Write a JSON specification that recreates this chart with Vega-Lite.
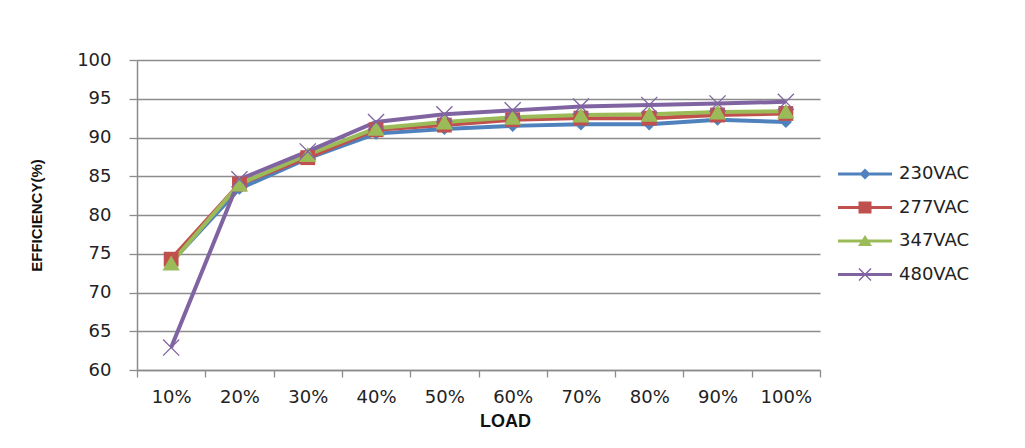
{
  "$schema": "https://vega.github.io/schema/vega-lite/v6.json",
  "width": 683,
  "height": 310,
  "autosize": {"type": "none"},
  "padding": {"left": 137, "top": 60, "right": 205, "bottom": 78},
  "background": "white",
  "config": {"view": {"stroke": null}, "font": "DejaVu Sans"},
  "data": {
    "values": [
      {"load": "10%", "series": "230VAC", "eff": 73.9},
      {"load": "20%", "series": "230VAC", "eff": 83.4},
      {"load": "30%", "series": "230VAC", "eff": 87.3},
      {"load": "40%", "series": "230VAC", "eff": 90.5},
      {"load": "50%", "series": "230VAC", "eff": 91.1},
      {"load": "60%", "series": "230VAC", "eff": 91.5},
      {"load": "70%", "series": "230VAC", "eff": 91.7},
      {"load": "80%", "series": "230VAC", "eff": 91.7},
      {"load": "90%", "series": "230VAC", "eff": 92.3},
      {"load": "100%", "series": "230VAC", "eff": 92.0},
      {"load": "10%", "series": "277VAC", "eff": 74.3},
      {"load": "20%", "series": "277VAC", "eff": 84.0},
      {"load": "30%", "series": "277VAC", "eff": 87.4},
      {"load": "40%", "series": "277VAC", "eff": 91.0},
      {"load": "50%", "series": "277VAC", "eff": 91.6},
      {"load": "60%", "series": "277VAC", "eff": 92.3},
      {"load": "70%", "series": "277VAC", "eff": 92.5},
      {"load": "80%", "series": "277VAC", "eff": 92.5},
      {"load": "90%", "series": "277VAC", "eff": 92.9},
      {"load": "100%", "series": "277VAC", "eff": 93.1},
      {"load": "10%", "series": "347VAC", "eff": 73.8},
      {"load": "20%", "series": "347VAC", "eff": 84.0},
      {"load": "30%", "series": "347VAC", "eff": 87.8},
      {"load": "40%", "series": "347VAC", "eff": 91.2},
      {"load": "50%", "series": "347VAC", "eff": 92.0},
      {"load": "60%", "series": "347VAC", "eff": 92.6},
      {"load": "70%", "series": "347VAC", "eff": 92.9},
      {"load": "80%", "series": "347VAC", "eff": 93.0},
      {"load": "90%", "series": "347VAC", "eff": 93.3},
      {"load": "100%", "series": "347VAC", "eff": 93.4},
      {"load": "10%", "series": "480VAC", "eff": 62.9},
      {"load": "20%", "series": "480VAC", "eff": 84.6},
      {"load": "30%", "series": "480VAC", "eff": 88.2},
      {"load": "40%", "series": "480VAC", "eff": 92.0},
      {"load": "50%", "series": "480VAC", "eff": 93.0},
      {"load": "60%", "series": "480VAC", "eff": 93.5},
      {"load": "70%", "series": "480VAC", "eff": 94.0},
      {"load": "80%", "series": "480VAC", "eff": 94.2},
      {"load": "90%", "series": "480VAC", "eff": 94.4},
      {"load": "100%", "series": "480VAC", "eff": 94.6}
    ]
  },
  "encoding": {
    "x": {
      "field": "load",
      "type": "ordinal",
      "sort": ["10%", "20%", "30%", "40%", "50%", "60%", "70%", "80%", "90%", "100%"],
      "scale": {"type": "band", "paddingInner": 0, "paddingOuter": 0},
      "axis": {
        "title": "LOAD",
        "titleFont": "Liberation Sans",
        "titleFontWeight": "bold",
        "titleFontSize": 18,
        "titleColor": "#111",
        "titleX": 368,
        "titleY": 51,
        "titleAlign": "center",
        "titleBaseline": "middle",
        "labelAngle": 0,
        "labelFont": "DejaVu Sans",
        "labelFontSize": 18,
        "labelColor": "#222",
        "labelPadding": 11,
        "tickBand": "extent",
        "tickSize": 7,
        "tickColor": "#8c8c8c",
        "tickWidth": 1.3,
        "domainColor": "#8c8c8c",
        "domainWidth": 1.5,
        "grid": false
      }
    },
    "y": {
      "field": "eff",
      "type": "quantitative",
      "scale": {"domain": [60, 100], "nice": false, "zero": false},
      "axis": {
        "title": "EFFICIENCY(%)",
        "titleFont": "Liberation Sans",
        "titleFontWeight": "bold",
        "titleFontSize": 15,
        "titleColor": "#111",
        "titleX": -101,
        "titleY": 155,
        "titleAlign": "center",
        "titleBaseline": "middle",
        "titleAngle": -90,
        "values": [60, 65, 70, 75, 80, 85, 90, 95, 100],
        "labelFont": "DejaVu Sans",
        "labelFontSize": 18,
        "labelColor": "#222",
        "labelPadding": 18,
        "tickSize": 8,
        "tickColor": "#8c8c8c",
        "tickWidth": 1.3,
        "domainColor": "#8c8c8c",
        "domainWidth": 1.5,
        "gridColor": "#8c8c8c",
        "gridWidth": 1.3
      }
    }
  },
  "layer": [
    {
      "mark": {"type": "line", "strokeWidth": 4},
      "encoding": {
        "color": {
          "field": "series",
          "type": "nominal",
          "scale": {"domain": ["230VAC", "277VAC", "347VAC", "480VAC"], "range": ["#4F81BD", "#C0504D", "#9BBB59", "#8064A2"]},
          "legend": {
            "orient": "none",
            "legendX": 718,
            "legendY": 104,
            "title": null,
            "symbolSize": 400,
            "symbolType": "square",
            "labelOffset": 24,
            "labelFont": "DejaVu Sans",
            "labelFontSize": 18,
            "labelColor": "#222",
            "rowPadding": 14.5,
            "encode": {
              "symbols": {
                "update": {
                  "shape": {"signal": "datum.value==='230VAC'?'M-2.7,-0.15H2.7V0.15H-2.7ZM0,-0.55L0.55,0L0,0.55L-0.55,0Z':datum.value==='277VAC'?'M-2.7,-0.15H2.7V0.15H-2.7ZM-0.65,-0.6H0.65V0.6H-0.65Z':datum.value==='347VAC'?'M-2.7,-0.15H2.7V0.15H-2.7ZM0,-0.6L0.7,0.5H-0.7Z':'M-2.7,-0.15H2.7V0.15H-2.7ZM-0.65,-0.55L-0.55,-0.65L0.65,0.55L0.55,0.65ZM-0.65,0.55L0.55,-0.65L0.65,-0.55L-0.55,0.65Z'"},
                  "fill": {"signal": "scale('color', datum.value)"},
                  "stroke": {"value": "transparent"},
                  "strokeWidth": {"value": 0},
                  "opacity": {"value": 1}
                }
              }
            }
          }
        }
      }
    },
    {
      "transform": [{"filter": "datum.series === '230VAC'"}],
      "mark": {"type": "point", "shape": "diamond", "filled": true, "size": 150, "color": "#4F81BD", "opacity": 1}
    },
    {
      "transform": [{"filter": "datum.series === '277VAC'"}],
      "mark": {"type": "point", "shape": "square", "filled": true, "size": 220, "color": "#C0504D", "opacity": 1}
    },
    {
      "transform": [{"filter": "datum.series === '347VAC'"}],
      "mark": {"type": "point", "shape": "triangle-up", "filled": true, "size": 300, "color": "#9BBB59", "opacity": 1}
    },
    {
      "transform": [{"filter": "datum.series === '480VAC'"}],
      "mark": {"type": "point", "shape": "M-1,-1L1,1M-1,1L1,-1", "filled": false, "size": 260, "strokeWidth": 1.3, "color": "#8064A2", "opacity": 1}
    }
  ]
}
